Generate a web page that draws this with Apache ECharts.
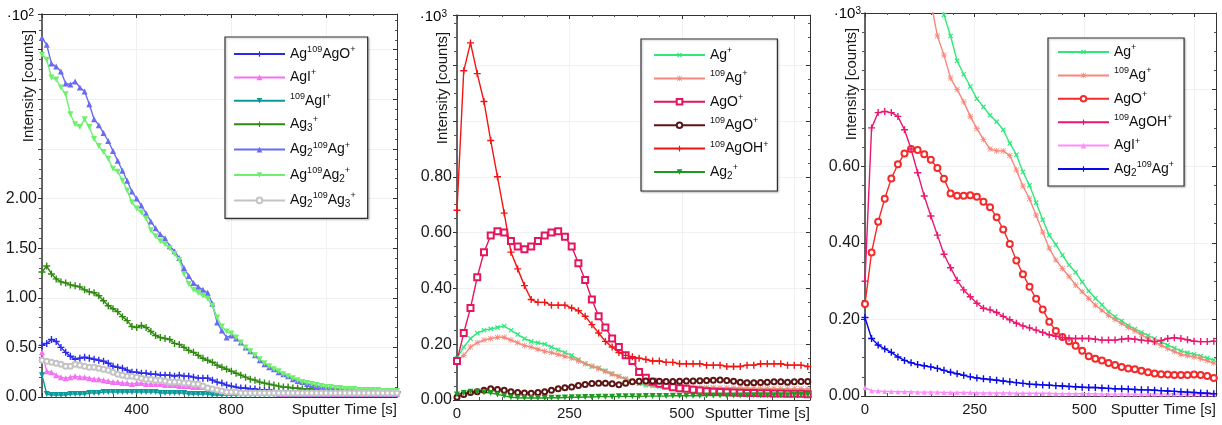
<!DOCTYPE html>
<html><head><meta charset="utf-8">
<script src="https://cdn.jsdelivr.net/npm/echarts@6/dist/echarts.min.js"></script>
<style>html,body{margin:0;padding:0;background:#fff}#c{width:1222px;height:425px}</style>
</head><body><div id="c"></div>
<script>
// ---------- DATA ----------
// Panel 1 (x10^2 counts), time step 20 s
const t1 = [0,20,40,60,80,100,120,140,160,180,200,220,240,260,280,300,320,340,360,380,400,420,440,460,480,500,520,540,560,580,600,620,640,660,680,700,720,740,760,780,800,820,840,860,880,900,920,940,960,980,1000,1020,1040,1060,1080,1100,1120,1140,1160,1180,1200,1220,1240,1260,1280,1300,1320,1340,1360,1380,1400,1420,1440,1460,1480,1500];
const p1_Ag109AgO = [0.52,0.54,0.58,0.56,0.50,0.45,0.41,0.38,0.39,0.40,0.39,0.38,0.37,0.36,0.34,0.31,0.30,0.29,0.27,0.25,0.25,0.24,0.24,0.23,0.23,0.22,0.22,0.22,0.21,0.22,0.21,0.21,0.20,0.19,0.19,0.19,0.17,0.15,0.14,0.12,0.11,0.10,0.09,0.09,0.08,0.08,0.07,0.07,0.07,0.06,0.06,0.06,0.06,0.06,0.06,0.06,0.06,0.05,0.05,0.05,0.05,0.05,0.05,0.05,0.05,0.05,0.05,0.05,0.05,0.05,0.05,0.05,0.05,0.05,0.05,0.05];
const p1_AgI = [0.45,0.26,0.25,0.22,0.20,0.19,0.20,0.21,0.20,0.20,0.19,0.18,0.18,0.17,0.16,0.15,0.15,0.14,0.14,0.13,0.14,0.14,0.13,0.13,0.13,0.13,0.12,0.12,0.12,0.11,0.11,0.11,0.10,0.10,0.10,0.09,0.08,0.07,0.06,0.05,0.05,0.04,0.04,0.04,0.04,0.04,0.04,0.04,0.04,0.04,0.03,0.03,0.03,0.03,0.03,0.03,0.03,0.03,0.03,0.03,0.03,0.03,0.03,0.03,0.03,0.03,0.03,0.03,0.03,0.03,0.03,0.03,0.03,0.03,0.03,0.03];
const p1_109AgI = [0.22,0.03,0.02,0.02,0.02,0.02,0.03,0.03,0.03,0.03,0.04,0.04,0.04,0.05,0.05,0.05,0.05,0.05,0.05,0.05,0.05,0.05,0.05,0.05,0.05,0.04,0.04,0.04,0.04,0.04,0.04,0.03,0.03,0.03,0.03,0.03,0.02,0.02,0.02,0.02,0.02,0.02,0.02,0.02,0.02,0.02,0.02,0.02,0.02,0.02,0.02,0.02,0.02,0.02,0.02,0.02,0.02,0.02,0.02,0.02,0.02,0.02,0.02,0.02,0.02,0.02,0.02,0.02,0.02,0.02,0.02,0.02,0.02,0.02,0.02,0.02];
const p1_Ag3 = [1.26,1.32,1.24,1.19,1.16,1.15,1.13,1.12,1.11,1.08,1.06,1.05,1.02,0.97,0.92,0.89,0.86,0.81,0.77,0.71,0.70,0.72,0.70,0.66,0.62,0.60,0.59,0.58,0.54,0.53,0.50,0.47,0.45,0.42,0.39,0.37,0.35,0.32,0.30,0.28,0.26,0.24,0.22,0.20,0.18,0.17,0.15,0.14,0.13,0.12,0.11,0.10,0.10,0.09,0.09,0.08,0.08,0.08,0.07,0.07,0.07,0.07,0.07,0.06,0.06,0.06,0.06,0.06,0.06,0.06,0.05,0.05,0.05,0.05,0.05,0.05];
const p1_Ag2109Ag = [3.62,3.55,3.36,3.33,3.28,3.16,3.15,3.18,3.12,3.08,2.95,2.80,2.74,2.66,2.58,2.48,2.38,2.28,2.18,2.07,2.00,1.93,1.85,1.77,1.70,1.64,1.60,1.52,1.47,1.40,1.30,1.22,1.15,1.11,1.08,1.05,0.94,0.75,0.67,0.60,0.62,0.59,0.55,0.50,0.46,0.42,0.37,0.33,0.30,0.28,0.25,0.23,0.21,0.18,0.16,0.15,0.13,0.12,0.11,0.10,0.10,0.09,0.09,0.08,0.08,0.08,0.07,0.07,0.07,0.07,0.07,0.06,0.06,0.06,0.06,0.06];
const p1_Ag109Ag2 = [3.45,3.40,3.22,3.20,3.12,3.05,2.85,2.75,2.72,2.80,2.72,2.60,2.53,2.47,2.40,2.30,2.27,2.18,2.08,1.96,1.90,1.86,1.80,1.68,1.62,1.57,1.54,1.50,1.44,1.38,1.24,1.14,1.08,1.05,1.02,0.99,0.92,0.80,0.71,0.66,0.64,0.60,0.55,0.50,0.46,0.42,0.38,0.34,0.31,0.28,0.26,0.23,0.21,0.19,0.17,0.15,0.14,0.13,0.12,0.11,0.10,0.10,0.09,0.09,0.08,0.08,0.08,0.07,0.07,0.07,0.07,0.07,0.06,0.06,0.06,0.06];
const p1_Ag2109Ag3 = [0.37,0.36,0.35,0.34,0.33,0.31,0.31,0.33,0.32,0.31,0.30,0.30,0.29,0.28,0.27,0.25,0.23,0.22,0.21,0.21,0.20,0.19,0.18,0.18,0.17,0.17,0.16,0.15,0.15,0.15,0.14,0.14,0.13,0.13,0.11,0.09,0.08,0.07,0.06,0.05,0.05,0.05,0.04,0.04,0.04,0.04,0.04,0.04,0.04,0.04,0.04,0.04,0.04,0.04,0.04,0.04,0.04,0.04,0.04,0.04,0.04,0.04,0.04,0.04,0.04,0.04,0.04,0.04,0.04,0.04,0.04,0.04,0.04,0.04,0.04,0.04];

// Panel 2 (x10^3 counts), time step 15 s
const t2 = [0,15,30,45,60,75,90,105,120,135,150,165,180,195,210,225,240,255,270,285,300,315,330,345,360,375,390,405,420,435,450,465,480,495,510,525,540,555,570,585,600,615,630,645,660,675,690,705,720,735,750,765,780];
const p2_Ag = [0.15,0.19,0.22,0.24,0.25,0.255,0.26,0.265,0.25,0.235,0.22,0.21,0.205,0.20,0.19,0.18,0.17,0.16,0.145,0.13,0.12,0.115,0.105,0.095,0.085,0.075,0.065,0.058,0.053,0.05,0.048,0.046,0.045,0.044,0.043,0.042,0.041,0.040,0.040,0.039,0.038,0.038,0.037,0.037,0.036,0.036,0.035,0.035,0.035,0.034,0.034,0.034,0.033];
const p2_109Ag = [0.14,0.16,0.19,0.205,0.215,0.22,0.225,0.225,0.215,0.205,0.195,0.19,0.182,0.175,0.17,0.163,0.157,0.15,0.14,0.13,0.122,0.112,0.102,0.092,0.084,0.076,0.068,0.062,0.058,0.055,0.053,0.051,0.05,0.049,0.048,0.047,0.046,0.045,0.045,0.044,0.044,0.043,0.043,0.042,0.042,0.041,0.041,0.041,0.040,0.040,0.040,0.040,0.039];
const p2_AgO = [0.14,0.24,0.33,0.44,0.53,0.59,0.605,0.60,0.57,0.55,0.54,0.55,0.57,0.59,0.60,0.605,0.585,0.55,0.49,0.43,0.36,0.30,0.26,0.22,0.19,0.16,0.14,0.10,0.08,0.065,0.058,0.052,0.046,0.042,0.040,0.037,0.034,0.031,0.030,0.029,0.028,0.027,0.026,0.025,0.025,0.024,0.024,0.023,0.023,0.022,0.022,0.022,0.021];
const p2_109AgO = [0.01,0.02,0.027,0.03,0.035,0.04,0.038,0.035,0.03,0.027,0.025,0.024,0.027,0.03,0.035,0.04,0.044,0.047,0.052,0.056,0.059,0.06,0.06,0.058,0.055,0.06,0.065,0.067,0.068,0.068,0.067,0.066,0.066,0.067,0.068,0.068,0.069,0.07,0.071,0.072,0.07,0.067,0.064,0.062,0.062,0.063,0.064,0.065,0.065,0.064,0.065,0.066,0.066];
const p2_109AgOH = [0.68,1.18,1.28,1.17,1.07,0.93,0.80,0.67,0.53,0.47,0.41,0.36,0.35,0.35,0.34,0.34,0.34,0.33,0.32,0.30,0.27,0.24,0.21,0.19,0.17,0.16,0.155,0.15,0.145,0.14,0.14,0.135,0.135,0.13,0.13,0.13,0.13,0.125,0.125,0.125,0.12,0.12,0.12,0.125,0.125,0.13,0.13,0.13,0.13,0.125,0.125,0.125,0.12];
const p2_Ag2 = [0.02,0.025,0.03,0.03,0.028,0.025,0.02,0.015,0.01,0.008,0.007,0.007,0.007,0.007,0.008,0.008,0.009,0.01,0.01,0.011,0.011,0.012,0.012,0.012,0.013,0.013,0.013,0.013,0.014,0.014,0.014,0.014,0.015,0.015,0.015,0.015,0.015,0.016,0.016,0.016,0.016,0.016,0.016,0.017,0.017,0.017,0.017,0.017,0.017,0.017,0.018,0.018,0.018];

// Panel 3 (x10^3 counts), time step 15 s
const t3 = [0,15,30,45,60,75,90,105,120,135,150,165,180,195,210,225,240,255,270,285,300,315,330,345,360,375,390,405,420,435,450,465,480,495,510,525,540,555,570,585,600,615,630,645,660,675,690,705,720,735,750,765,780,795];
const p3_Ag = [null,null,null,null,null,null,null,null,null,null,null,1.06,0.995,0.94,0.875,0.84,0.808,0.776,0.755,0.733,0.716,0.695,0.66,0.63,0.585,0.55,0.505,0.46,0.42,0.395,0.368,0.342,0.323,0.298,0.274,0.255,0.238,0.22,0.207,0.196,0.184,0.175,0.166,0.158,0.15,0.141,0.133,0.125,0.118,0.113,0.109,0.104,0.099,0.094];
const p3_109Ag = [null,null,null,null,null,null,null,null,null,null,1.03,0.94,0.89,0.83,0.80,0.768,0.73,0.698,0.67,0.645,0.64,0.64,0.628,0.59,0.548,0.515,0.472,0.428,0.386,0.355,0.333,0.312,0.29,0.272,0.255,0.237,0.224,0.21,0.2,0.189,0.179,0.17,0.16,0.15,0.14,0.132,0.124,0.116,0.109,0.105,0.102,0.097,0.092,0.086];
const p3_AgO = [0.24,0.375,0.455,0.515,0.568,0.605,0.633,0.645,0.642,0.631,0.617,0.595,0.567,0.529,0.523,0.523,0.524,0.52,0.507,0.493,0.467,0.435,0.397,0.354,0.318,0.285,0.254,0.226,0.194,0.17,0.154,0.143,0.131,0.118,0.104,0.097,0.093,0.086,0.081,0.076,0.072,0.07,0.066,0.062,0.059,0.057,0.056,0.055,0.055,0.055,0.056,0.055,0.052,0.047];
const p3_109AgOH = [0.30,0.70,0.74,0.743,0.74,0.73,0.695,0.645,0.583,0.522,0.47,0.42,0.37,0.335,0.302,0.277,0.259,0.242,0.229,0.225,0.218,0.208,0.199,0.19,0.183,0.178,0.172,0.166,0.16,0.156,0.153,0.151,0.15,0.15,0.15,0.148,0.146,0.146,0.146,0.148,0.15,0.148,0.146,0.144,0.142,0.145,0.15,0.152,0.15,0.147,0.143,0.142,0.142,0.143];
const p3_AgI = [0.022,0.014,0.013,0.012,0.012,0.011,0.011,0.011,0.010,0.010,0.010,0.010,0.009,0.009,0.009,0.009,0.009,0.008,0.008,0.008,0.008,0.008,0.008,0.007,0.007,0.007,0.007,0.007,0.007,0.006,0.006,0.006,0.006,0.006,0.006,0.006,0.005,0.005,0.005,0.005,0.005,0.005,0.005,0.005,0.005,0.005,0.005,0.005,0.005,0.005,0.005,0.005,0.005,0.005];
const p3_Ag2109Ag = [0.205,0.15,0.133,0.123,0.114,0.102,0.093,0.087,0.082,0.079,0.076,0.072,0.067,0.062,0.058,0.054,0.05,0.047,0.045,0.043,0.041,0.039,0.037,0.035,0.033,0.031,0.03,0.029,0.028,0.027,0.026,0.025,0.024,0.023,0.022,0.022,0.021,0.02,0.019,0.019,0.018,0.017,0.016,0.016,0.015,0.014,0.013,0.012,0.011,0.01,0.009,0.008,0.007,0.006];

// Tick labels
const xLabels = [[400,800],[0,250,500],[0,250,500]];
const yLabelMax = [2.0, 0.8, 0.6];
const multipliers = ['2','3','3'];

// ---------- RENDER ----------
const FONT = 'Liberation Sans, Arial, sans-serif';
const PLUS = 'path://M4,0H6V4H10V6H6V10H4V6H0V4H4Z';
const ASTER = 'path://M4.4,0H5.6V10H4.4Z M0,4.4H10V5.6H0Z M1.2,0.4L9.6,8.8L8.8,9.6L0.4,1.2Z M8.8,0.4L9.6,1.2L1.2,9.6L0.4,8.8Z';

const LBL = {
  a1: '{n|Ag}{sup|109}{n|AgO}{sup|+}',
  b1: '{n|AgI}{sup|+}',
  c1: '{sup|109}{n|AgI}{sup|+}',
  d1: '{n|Ag}{sub|3}{sup|+}',
  e1: '{n|Ag}{sub|2}{sup|109}{n|Ag}{sup|+}',
  f1: '{n|Ag}{sup|109}{n|Ag}{sub|2}{sup|+}',
  g1: '{n|Ag}{sub|2}{sup|109}{n|Ag}{sub|3}{sup|+}',
  a2: '{n|Ag}{sup|+}',
  b2: '{sup|109}{n|Ag}{sup|+}',
  c2: '{n|AgO}{sup|+}',
  d2: '{sup|109}{n|AgO}{sup|+}',
  e2: '{sup|109}{n|AgOH}{sup|+}',
  f2: '{n|Ag}{sub|2}{sup|+}',
  a3: '{n|Ag}{sup|+}',
  b3: '{sup|109}{n|Ag}{sup|+}',
  c3: '{n|AgO}{sup|+}',
  d3: '{sup|109}{n|AgOH}{sup|+}',
  e3: '{n|AgI}{sup|+}',
  f3: '{n|Ag}{sub|2}{sup|109}{n|Ag}{sup|+}'
};

function mk(name, gi, t, v, color, symbol, size, rot, empty) {
  const data = [];
  for (let i = 0; i < t.length; i++) if (v[i] != null) data.push([t[i], v[i]]);
  return {
    type: 'line', name, xAxisIndex: gi * 2, yAxisIndex: gi * 2, data,
    symbol, symbolSize: size, symbolRotate: rot || 0, showSymbol: true, showAllSymbol: true,
    lineStyle: { color, width: 1.4 },
    itemStyle: empty ? { color, borderColor: color, borderWidth: 1 } : { color, borderWidth: 0 },
    emphasis: { disabled: true }, clip: true, z: 3
  };
}

const series = [
  mk('a1',0,t1,p1_Ag109AgO,'#2b2be8',PLUS,7),
  mk('b1',0,t1,p1_AgI,'#f570f5','triangle',6),
  mk('c1',0,t1,p1_109AgI,'#0a9a9a','triangle',6,180),
  mk('d1',0,t1,p1_Ag3,'#2f8a12',PLUS,7),
  mk('e1',0,t1,p1_Ag2109Ag,'#6b6bf2','triangle',6),
  mk('f1',0,t1,p1_Ag109Ag2,'#6ef06e','triangle',6,180),
  mk('g1',0,t1,p1_Ag2109Ag3,'#c4c4c4','emptyCircle',5,0,true),
  mk('a2',1,t2,p2_Ag,'#2ee87a',PLUS,6,45),
  mk('b2',1,t2,p2_109Ag,'#f7877a',ASTER,6),
  mk('c2',1,t2,p2_AgO,'#e3165f','emptyRect',6,0,true),
  mk('d2',1,t2,p2_109AgO,'#5c1515','emptyCircle',5,0,true),
  mk('e2',1,t2,p2_109AgOH,'#f21515',PLUS,7),
  mk('f2',1,t2,p2_Ag2,'#1f9a1f','triangle',6,180),
  mk('a3',2,t3,p3_Ag,'#2ee87a',PLUS,6,45),
  mk('b3',2,t3,p3_109Ag,'#f7877a',ASTER,6),
  mk('c3',2,t3,p3_AgO,'#f52a2a','emptyCircle',6,0,true),
  mk('d3',2,t3,p3_109AgOH,'#ea1670',PLUS,7),
  mk('e3',2,t3,p3_AgI,'#ff8cff','triangle',5),
  mk('f3',2,t3,p3_Ag2109Ag,'#0a0ae8',PLUS,7)
];

const grids = [
  {left:42, top:14, width:355, height:383},
  {left:457, top:15, width:353, height:385},
  {left:865, top:13, width:351, height:383}
];
const xCfg = [{max:1500, interval:400, minor:4, margin:5},{max:785, interval:250, minor:5, margin:6},{max:800, interval:250, minor:5, margin:6}];
const yCfg = [{max:3.86, interval:0.5, minor:5},{max:1.38, interval:0.2, minor:4},{max:1.0, interval:0.2, minor:4}];

const AX = '#333';
const xAxis = [], yAxis = [];
for (let g = 0; g < 3; g++) {
  const xc = xCfg[g], yc = yCfg[g];
  xAxis.push({
    type:'value', gridIndex:g, min:0, max:xc.max, interval:xc.interval, position:'bottom',
    axisLine:{show:true, onZero:false, lineStyle:{color:AX, width:1}},
    axisTick:{show:true, inside:true, length:4, lineStyle:{color:AX}},
    minorTick:{show:true, splitNumber:xc.minor, length:3, lineStyle:{color:'#555'}},
    splitLine:{show:true, lineStyle:{color:'#f1f1f1', width:1}},
    minorSplitLine:{show:false},
    axisLabel:{show:true, margin:xc.margin, fontSize:15, fontFamily:FONT, color:'#1a1a1a',
      showMinLabel:true, showMaxLabel:true,
      formatter: v => xLabels[g].indexOf(Math.round(v)) >= 0 ? String(Math.round(v)) : ''}
  });
  xAxis.push({
    type:'value', gridIndex:g, min:0, max:xc.max, interval:xc.interval, position:'top',
    axisLine:{show:true, onZero:false, lineStyle:{color:AX, width:1}},
    axisTick:{show:true, inside:true, length:4, lineStyle:{color:AX}},
    minorTick:{show:true, splitNumber:xc.minor, length:2, lineStyle:{color:'#555'}},
    splitLine:{show:false}, axisLabel:{show:false}
  });
  yAxis.push({
    type:'value', gridIndex:g, min:0, max:yc.max, interval:yc.interval, position:'left',
    axisLine:{show:true, onZero:false, lineStyle:{color:AX, width:1.5}},
    axisTick:{show:true, inside:false, length:4, lineStyle:{color:AX}},
    minorTick:{show:true, splitNumber:yc.minor, length:3, lineStyle:{color:'#555'}},
    splitLine:{show:true, lineStyle:{color:'#f1f1f1', width:1}},
    axisLabel:{show:true, margin:5, fontSize:16, fontFamily:FONT, color:'#1a1a1a',
      showMinLabel:true, showMaxLabel:true,
      formatter: v => v <= yLabelMax[g] + 1e-9 && Math.abs(v / yc.interval - Math.round(v / yc.interval)) < 1e-6 ? v.toFixed(2) : ''}
  });
  yAxis.push({
    type:'value', gridIndex:g, min:0, max:yc.max, interval:yc.interval, position:'right',
    axisLine:{show:true, onZero:false, lineStyle:{color:AX, width:1}},
    axisTick:{show:true, inside:true, length:4, lineStyle:{color:AX}},
    minorTick:{show:true, splitNumber:yc.minor, length:2, lineStyle:{color:'#555'}},
    splitLine:{show:false}, axisLabel:{show:false}
  });
}

const rich = {
  n:{fontSize:14, lineHeight:18, color:'#111', fontFamily:FONT},
  sup:{fontSize:9, lineHeight:9, verticalAlign:'top', color:'#111', fontFamily:FONT},
  sub:{fontSize:10, lineHeight:11, verticalAlign:'bottom', color:'#111', fontFamily:FONT}
};
function legend(names, left, top, padding) {
  return {
    orient:'vertical', left, top, padding, data:names, selectedMode:false,
    itemWidth:51, itemHeight:7, itemGap:7.4,
    borderColor:'#333', borderWidth:1.2, backgroundColor:'#fff',
    shadowColor:'rgba(0,0,0,0.25)', shadowBlur:2, shadowOffsetX:1, shadowOffsetY:1,
    formatter: n => LBL[n], textStyle:{fontFamily:FONT, fontSize:14, color:'#111', rich}
  };
}

const titleStyle = {font:'15px ' + FONT, fill:'#1a1a1a'};
const graphic = [];
const yTitlePos = [[29,86],[443,88],[852,84]];
const multPos = [[34,16],[447,17],[861,14]];
const xNamePos = [[397,410],[810,414],[1216,410]];
for (let g = 0; g < 3; g++) {
  graphic.push({type:'text', x:yTitlePos[g][0], y:yTitlePos[g][1], rotation:Math.PI/2,
    style:Object.assign({text:'Intensity [counts]', align:'center', verticalAlign:'middle'}, titleStyle)});
  graphic.push({type:'text', x:multPos[g][0], y:multPos[g][1],
    style:{text:'{a|·10}{b|' + multipliers[g] + '}', align:'right', verticalAlign:'middle',
      rich:{a:{fontSize:15, lineHeight:16, fontFamily:FONT, color:'#1a1a1a'},
            b:{fontSize:10, lineHeight:8, verticalAlign:'top', fontFamily:FONT, color:'#1a1a1a'}}}});
  graphic.push({type:'text', x:xNamePos[g][0], y:xNamePos[g][1],
    style:Object.assign({text:'Sputter Time [s]', align:'right', verticalAlign:'middle'}, titleStyle)});
}

const chart = echarts.init(document.getElementById('c'), null, {renderer:'canvas'});
chart.setOption({
  animation:false, backgroundColor:'#fff',
  textStyle:{fontFamily:FONT},
  grid:grids, xAxis, yAxis, series,
  legend:[
    legend(['a1','b1','c1','d1','e1','f1','g1'], 225, 37, [8,12,9,8]),
    legend(['a2','b2','c2','d2','e2','f2'], 641, 39, [7,9,10,12]),
    legend(['a3','b3','c3','d3','e3','f3'], 1048, 38, [5,10,8,9])
  ],
  graphic
});
</script>
</body></html>
